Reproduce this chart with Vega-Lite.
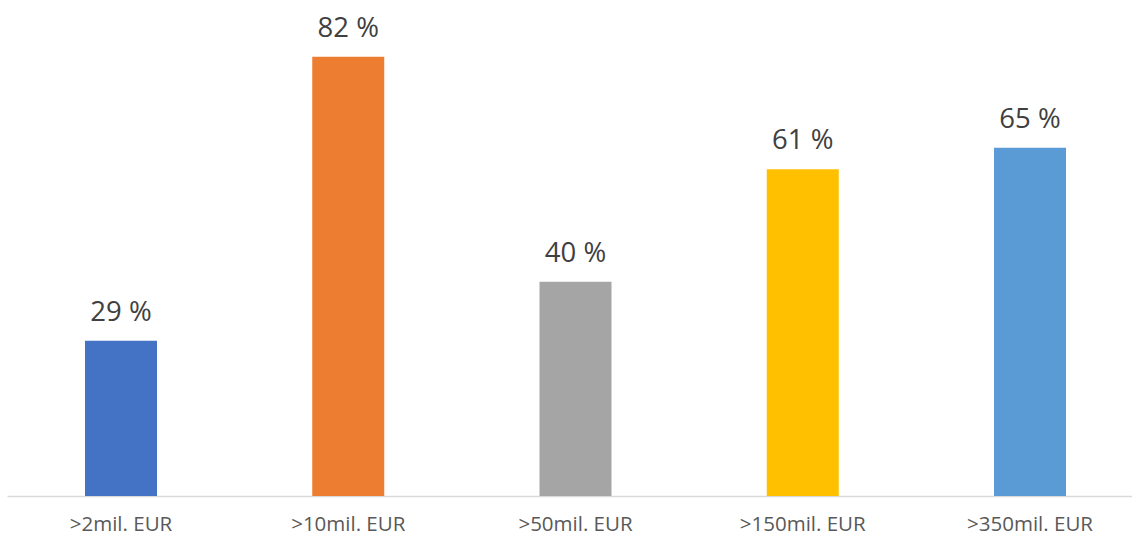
{
  "$schema": "https://vega.github.io/schema/vega-lite/v6.json",
  "width": 1125,
  "height": 496,
  "autosize": {"type": "none"},
  "padding": {"left": 7, "top": 0, "right": 0, "bottom": 41},
  "background": "white",
  "config": {"view": {"stroke": null}, "font": "Open Sans"},
  "data": {
    "values": [
      {"category": ">2mil. EUR", "value": 29, "label": "29 %"},
      {"category": ">10mil. EUR", "value": 82, "label": "82 %"},
      {"category": ">50mil. EUR", "value": 40, "label": "40 %"},
      {"category": ">150mil. EUR", "value": 61, "label": "61 %"},
      {"category": ">350mil. EUR", "value": 65, "label": "65 %"}
    ]
  },
  "encoding": {
    "x": {
      "field": "category",
      "type": "nominal",
      "sort": null,
      "scale": {"paddingInner": 0.6832, "paddingOuter": 0.3168, "align": 0.5417},
      "axis": {
        "title": null,
        "labelAngle": 0,
        "labelFontSize": 20.5,
        "labelColor": "#595959",
        "labelFont": "Open Sans",
        "labelPadding": 18,
        "ticks": false,
        "domainColor": "#D9D9D9",
        "domainWidth": 1.5,
        "grid": false
      }
    },
    "y": {
      "field": "value",
      "type": "quantitative",
      "scale": {"domain": [0, 92.6], "nice": false, "zero": true},
      "axis": null
    }
  },
  "layer": [
    {
      "mark": {"type": "bar"},
      "encoding": {
        "color": {
          "field": "category",
          "type": "nominal",
          "sort": null,
          "scale": {"range": ["#4472C4", "#ED7D31", "#A5A5A5", "#FFC000", "#5B9BD5"]},
          "legend": null
        }
      }
    },
    {
      "mark": {"type": "text", "baseline": "alphabetic", "dy": -20, "fontSize": 27.5, "color": "#404040", "font": "Open Sans"},
      "encoding": {"text": {"field": "label"}}
    }
  ]
}
